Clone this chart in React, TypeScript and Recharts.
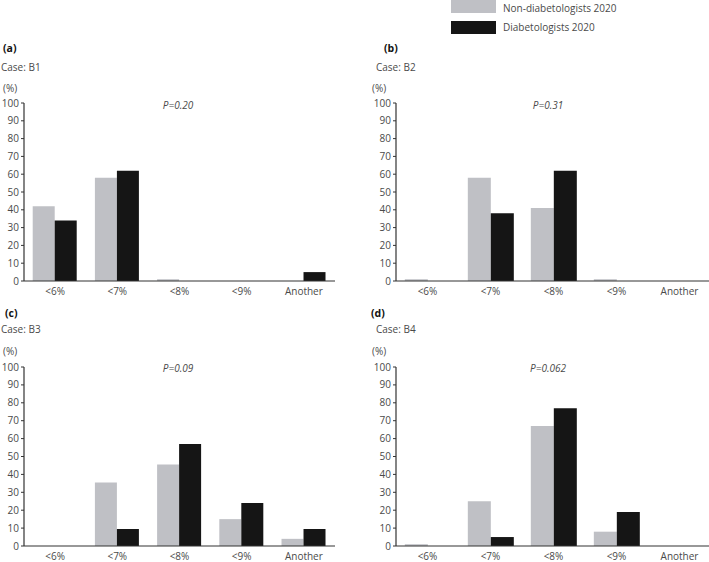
import React from 'react';
import { BarChart, Bar, XAxis, YAxis } from 'recharts';

const categories = ['<6%', '<7%', '<8%', '<9%', 'Another'];
const yTicks = [0, 10, 20, 30, 40, 50, 60, 70, 80, 90, 100];

// values (%), tiny 1 values are the slivers on the baseline
const nonB1 = [42, 58, 1, 0, 0];
const diaB1 = [34, 62, 0, 0, 5];
const nonB2 = [1, 58, 41, 1, 0];
const diaB2 = [0, 38, 62, 0, 0];
const nonB3 = [0, 35.5, 45.5, 15, 4];
const diaB3 = [0, 9.5, 57, 24, 9.5];
const nonB4 = [1, 25, 67, 8, 0];
const diaB4 = [0, 5, 77, 19, 0];

const GRAY = '#bfc0c5';
const BLACK = '#151515';
const FONT = '"Open Sans", sans-serif';
const TXT = '#4a4a4a';

const build = (non: number[], dia: number[]) =>
  categories.map((c, i) => ({ name: c, non: non[i], dia: dia[i] }));

type PanelProps = {
  left: number;
  top: number;
  width: number;
  height: number;
  yAxisWidth: number;
  rightMargin: number;
  data: { name: string; non: number; dia: number }[];
};

const Panel: React.FC<PanelProps> = ({ left, top, width, height, yAxisWidth, rightMargin, data }) => (
  <div style={{ position: 'absolute', left, top }}>
    <BarChart
      width={width}
      height={height}
      data={data}
      margin={{ top: 13, right: rightMargin, left: 0, bottom: 0 }}
      barGap={0}
      barCategoryGap="14%"
    >
      <Bar dataKey="non" fill={GRAY} isAnimationActive={false} />
      <Bar dataKey="dia" fill={BLACK} isAnimationActive={false} />
      <XAxis
        dataKey="name"
        axisLine={{ stroke: '#333', strokeWidth: 1.2 }}
        tickLine={false}
        tickMargin={1}
        height={20}
        interval={0}
        tick={{ fill: TXT, fontSize: 10, fontFamily: FONT }}
      />
      <YAxis
        domain={[0, 100]}
        ticks={yTicks}
        width={yAxisWidth}
        interval={0}
        axisLine={{ stroke: '#333', strokeWidth: 1.2 }}
        tickLine={{ stroke: '#333' }}
        tickSize={3}
        tickMargin={2}
        tick={{ fill: TXT, fontSize: 10, fontFamily: FONT }}
      />
    </BarChart>
  </div>
);

const Txt: React.FC<{ x: number; y: number; bold?: boolean; italic?: boolean; center?: boolean; children: React.ReactNode }> = ({ x, y, bold, italic, center, children }) => (
  <div
    style={{
      position: 'absolute',
      left: x,
      top: y - 8,
      lineHeight: '16px',
      fontFamily: FONT,
      fontSize: bold ? 10.5 : 10,
      fontWeight: bold ? 700 : 400,
      fontStyle: italic ? 'italic' : 'normal',
      color: bold ? '#111' : TXT,
      whiteSpace: 'nowrap',
      transform: center ? 'translateX(-50%)' : undefined,
    }}
  >
    {children}
  </div>
);

export default function App() {
  return (
    <div style={{ position: 'relative', width: 709, height: 562, background: '#fff', overflow: 'hidden' }}>
      <style>{`body{margin:0}`}</style>

      {/* legend */}
      <div style={{ position: 'absolute', left: 451, top: 0, width: 45, height: 13, background: GRAY }} />
      <div style={{ position: 'absolute', left: 451, top: 21, width: 45, height: 13, background: BLACK }} />
      <Txt x={503} y={8}>Non-diabetologists 2020</Txt>
      <Txt x={503} y={27}>Diabetologists 2020</Txt>

      {/* (a) */}
      <Txt x={3} y={48} bold>(a)</Txt>
      <Txt x={1} y={67}>Case: B1</Txt>
      <Txt x={3} y={88}>(%)</Txt>
      <Panel left={0} top={90} width={345} height={211} yAxisWidth={24} rightMargin={10} data={build(nonB1, diaB1)} />
      <Txt x={178} y={105} italic center>P=0.20</Txt>

      {/* (b) */}
      <Txt x={384} y={48} bold>(b)</Txt>
      <Txt x={376} y={67}>Case: B2</Txt>
      <Txt x={372} y={88}>(%)</Txt>
      <Panel left={355} top={90} width={356} height={211} yAxisWidth={41} rightMargin={0} data={build(nonB2, diaB2)} />
      <Txt x={548} y={105} italic center>P=0.31</Txt>

      {/* (c) */}
      <Txt x={5} y={313} bold>(c)</Txt>
      <Txt x={1} y={329}>Case: B3</Txt>
      <Txt x={3} y={351}>(%)</Txt>
      <Panel left={0} top={354} width={345} height={212} yAxisWidth={24} rightMargin={10} data={build(nonB3, diaB3)} />
      <Txt x={178} y={368} italic center>P=0.09</Txt>

      {/* (d) */}
      <Txt x={371} y={313} bold>(d)</Txt>
      <Txt x={376} y={329}>Case: B4</Txt>
      <Txt x={372} y={351}>(%)</Txt>
      <Panel left={355} top={354} width={356} height={212} yAxisWidth={41} rightMargin={0} data={build(nonB4, diaB4)} />
      <Txt x={548} y={368} italic center>P=0.062</Txt>
    </div>
  );
}
